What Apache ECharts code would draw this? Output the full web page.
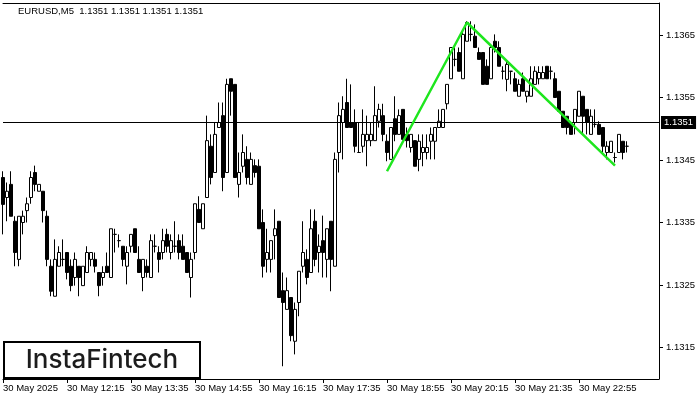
<!DOCTYPE html>
<html><head><meta charset="utf-8">
<script src="https://cdn.jsdelivr.net/npm/echarts@6/dist/echarts.min.js"></script>
<style>html,body{margin:0;padding:0;background:#fff}#c{width:700px;height:400px}</style>
</head><body><div id="c"></div>
<script>
const chartTitle = 'EURUSD,M5  1.1351 1.1351 1.1351 1.1351';
const tickIndex = [0, 16, 32, 48, 64, 80, 96, 112, 128, 144];
const tickLabels = ['30 May 2025', '30 May 12:15', '30 May 13:35', '30 May 14:55', '30 May 16:15',
  '30 May 17:35', '30 May 18:55', '30 May 20:15', '30 May 21:35', '30 May 22:55'];
const yTicks = [1.1315, 1.1325, 1.1335, 1.1345, 1.1355, 1.1365];
const bidPrice = 1.1351;
const yMin = 1.130996, yMax = 1.137012;
const slotCount = 165;

const open = [
1.13422,1.13390,1.13411,1.13352,1.13291,1.13350,1.13369,1.13390,1.13430,1.13400,
1.13400,1.13360,1.13280,1.13232,1.13280,1.13291,1.13302,1.13280,1.13262,1.13280,
1.13249,1.13270,1.13291,1.13291,1.13270,1.13262,1.13280,1.13262,1.13331,1.13321,
1.13312,1.13280,1.13312,1.13340,1.13291,1.13262,1.13280,1.13262,1.13312,1.13302,
1.13302,1.13331,1.13302,1.13312,1.13321,1.13312,1.13302,1.13262,1.13302,1.13371,
1.13340,1.13390,1.13472,1.13430,1.13502,1.13521,1.13430,1.13580,1.13571,1.13411,
1.13440,1.13451,1.13411,1.13441,1.13440,1.13350,1.13291,1.13291,1.13329,1.13352,
1.13241,1.13211,1.13230,1.13160,1.13222,1.13280,1.13291,1.13270,1.13352,1.13302,
1.13321,1.13291,1.13352,1.13280,1.13462,1.13510,1.13542,1.13510,1.13510,1.13462,
1.13472,1.13481,1.13481,1.13481,1.13512,1.13521,1.13480,1.13451,1.13516,1.13491,
1.13531,1.13491,1.13470,1.13481,1.13451,1.13462,1.13462,1.13480,1.13480,1.13502,
1.13502,1.13540,1.13580,1.13611,1.13622,1.13580,1.13640,1.13651,1.13648,1.13622,
1.13622,1.13600,1.13580,1.13640,1.13630,1.13592,1.13579,1.13592,1.13580,1.13552,
1.13580,1.13552,1.13552,1.13571,1.13580,1.13580,1.13600,1.13592,1.13580,1.13560,
1.13528,1.13520,1.13510,1.13510,1.13520,1.13552,1.13531,1.13491,1.13507,1.13507,
1.13502,1.13462,1.13462,1.13454,1.13462,1.13480,1.13472];
const close = [
1.13379,1.13400,1.13360,1.13302,1.13360,1.13360,1.13380,1.13422,1.13411,1.13411,
1.13369,1.13291,1.13240,1.13291,1.13302,1.13291,1.13270,1.13249,1.13291,1.13262,
1.13280,1.13302,1.13302,1.13280,1.13249,1.13270,1.13270,1.13340,1.13331,1.13321,
1.13291,1.13302,1.13331,1.13302,1.13270,1.13291,1.13270,1.13321,1.13312,1.13291,
1.13321,1.13312,1.13321,1.13312,1.13302,1.13291,1.13270,1.13291,1.13380,1.13350,
1.13380,1.13481,1.13422,1.13491,1.13510,1.13422,1.13571,1.13560,1.13422,1.13430,
1.13462,1.13422,1.13451,1.13430,1.13340,1.13280,1.13302,1.13321,1.13340,1.13230,
1.13222,1.13241,1.13169,1.13211,1.13272,1.13302,1.13262,1.13340,1.13291,1.13312,
1.13302,1.13340,1.13291,1.13451,1.13521,1.13531,1.13502,1.13502,1.13472,1.13462,
1.13491,1.13491,1.13491,1.13521,1.13531,1.13491,1.13462,1.13502,1.13491,1.13521,
1.13483,1.13481,1.13491,1.13440,1.13480,1.13470,1.13470,1.13491,1.13502,1.13512,
1.13531,1.13571,1.13630,1.13611,1.13592,1.13651,1.13670,1.13651,1.13630,1.13611,
1.13571,1.13571,1.13630,1.13630,1.13600,1.13592,1.13603,1.13592,1.13560,1.13571,
1.13560,1.13560,1.13580,1.13592,1.13590,1.13590,1.13580,1.13592,1.13550,1.13528,
1.13502,1.13502,1.13491,1.13531,1.13560,1.13520,1.13510,1.13520,1.13507,1.13491,
1.13472,1.13472,1.13480,1.13454,1.13491,1.13462,1.13472];
const low = [
1.13331,1.13352,1.13360,1.13280,1.13280,1.13331,1.13350,1.13380,1.13400,1.13400,
1.13350,1.13280,1.13232,1.13232,1.13280,1.13280,1.13259,1.13240,1.13249,1.13232,
1.13249,1.13270,1.13280,1.13270,1.13232,1.13249,1.13270,1.13262,1.13302,1.13310,
1.13280,1.13251,1.13302,1.13302,1.13270,1.13240,1.13262,1.13262,1.13302,1.13270,
1.13291,1.13302,1.13291,1.13302,1.13291,1.13291,1.13270,1.13230,1.13291,1.13350,
1.13340,1.13390,1.13411,1.13430,1.13502,1.13400,1.13430,1.13521,1.13422,1.13390,
1.13430,1.13411,1.13411,1.13422,1.13340,1.13262,1.13270,1.13270,1.13291,1.13230,
1.13120,1.13211,1.13160,1.13139,1.13200,1.13270,1.13251,1.13270,1.13280,1.13270,
1.13262,1.13262,1.13240,1.13280,1.13430,1.13451,1.13502,1.13502,1.13462,1.13462,
1.13462,1.13440,1.13472,1.13481,1.13502,1.13480,1.13448,1.13451,1.13480,1.13491,
1.13483,1.13470,1.13462,1.13440,1.13432,1.13440,1.13451,1.13451,1.13451,1.13502,
1.13502,1.13531,1.13580,1.13600,1.13592,1.13580,1.13640,1.13640,1.13630,1.13611,
1.13571,1.13571,1.13580,1.13622,1.13600,1.13579,1.13560,1.13571,1.13560,1.13552,
1.13560,1.13542,1.13552,1.13571,1.13571,1.13580,1.13580,1.13579,1.13550,1.13528,
1.13502,1.13491,1.13491,1.13491,1.13520,1.13491,1.13491,1.13491,1.13502,1.13491,
1.13462,1.13451,1.13462,1.13446,1.13462,1.13451,1.13462];
const high = [
1.13432,1.13414,1.13432,1.13360,1.13360,1.13369,1.13390,1.13432,1.13441,1.13411,
1.13400,1.13369,1.13291,1.13323,1.13312,1.13323,1.13302,1.13291,1.13302,1.13280,
1.13280,1.13312,1.13302,1.13302,1.13270,1.13280,1.13302,1.13340,1.13340,1.13331,
1.13312,1.13312,1.13331,1.13340,1.13312,1.13291,1.13291,1.13331,1.13331,1.13312,
1.13340,1.13340,1.13331,1.13352,1.13331,1.13331,1.13302,1.13302,1.13380,1.13392,
1.13380,1.13521,1.13491,1.13510,1.13542,1.13542,1.13580,1.13580,1.13571,1.13462,
1.13491,1.13472,1.13462,1.13451,1.13451,1.13371,1.13340,1.13321,1.13371,1.13352,
1.13270,1.13262,1.13230,1.13222,1.13272,1.13352,1.13307,1.13371,1.13371,1.13331,
1.13361,1.13340,1.13352,1.13462,1.13542,1.13552,1.13580,1.13571,1.13531,1.13510,
1.13531,1.13521,1.13510,1.13568,1.13540,1.13540,1.13491,1.13502,1.13552,1.13531,
1.13531,1.13502,1.13491,1.13481,1.13491,1.13491,1.13491,1.13502,1.13502,1.13531,
1.13531,1.13571,1.13630,1.13630,1.13630,1.13659,1.13672,1.13672,1.13667,1.13630,
1.13622,1.13611,1.13635,1.13651,1.13640,1.13600,1.13608,1.13592,1.13590,1.13579,
1.13590,1.13560,1.13600,1.13600,1.13600,1.13600,1.13600,1.13600,1.13590,1.13560,
1.13528,1.13520,1.13510,1.13531,1.13560,1.13552,1.13531,1.13531,1.13531,1.13512,
1.13502,1.13480,1.13480,1.13462,1.13491,1.13480,1.13480];

const patternIdx = [96, 116, 153];
const patternPrice = [1.13432, 1.13670, 1.13441];

// category slots (5-minute bars starting 10:55)
const categories = [];
for (let i = 0; i < slotCount; i++) {
  const m = 10 * 60 + 55 + 5 * i;
  const hh = Math.floor(m / 60) % 24, mm = m % 60;
  categories.push('30 May ' + String(hh).padStart(2, '0') + ':' + String(mm).padStart(2, '0'));
}
const candles = open.map((o, i) => [o, close[i], low[i], high[i]]);
const isTick = (i) => tickIndex.indexOf(i) >= 0;
const FONT = 'Liberation Sans';

const chart = echarts.init(document.getElementById('c'), null, {renderer: 'canvas'});
chart.setOption({
  animation: false,
  backgroundColor: '#fff',
  title: {text: chartTitle, left: 18, top: 6, padding: 0,
    textStyle: {fontFamily: FONT, fontSize: 9.5, fontWeight: 'normal', color: '#000'}},
  grid: {left: 3, right: 41, top: 3, bottom: 21},
  xAxis: [{
    type: 'category', data: categories, boundaryGap: false,
    axisLine: {lineStyle: {color: '#000', width: 1}},
    axisTick: {interval: (i) => isTick(i), length: 4, lineStyle: {color: '#000'}},
    axisLabel: {interval: (i) => isTick(i), formatter: (v, i) => tickLabels[tickIndex.indexOf(i)] || '',
      align: 'left', margin: 4, fontFamily: FONT, fontSize: 9.5, color: '#000'},
    splitLine: {show: false}
  }, {
    type: 'category', data: categories, boundaryGap: false, position: 'top',
    axisLine: {lineStyle: {color: '#000', width: 1}}, axisTick: {show: false}, axisLabel: {show: false}
  }],
  yAxis: {
    type: 'value', position: 'right', min: yMin, max: yMax,
    axisLine: {show: true, lineStyle: {color: '#000', width: 1}},
    axisTick: {show: true, length: 4, customValues: yTicks, lineStyle: {color: '#000'}},
    axisLabel: {customValues: yTicks, formatter: (v) => v.toFixed(4), margin: 7,
      fontFamily: FONT, fontSize: 9.5, color: '#000'},
    splitLine: {show: false}
  },
  series: [{
    type: 'candlestick', data: candles, barWidth: 3, clip: true,
    itemStyle: {color: '#fff', color0: '#000', borderColor: '#000', borderColor0: '#000', borderColorDoji: '#000', borderWidth: 1}
  }, {
    name: 'bid', type: 'line', data: [[0, bidPrice], [slotCount - 1, bidPrice]],
    symbol: 'none', z: 3, silent: true, clip: false,
    lineStyle: {color: '#000', width: 1},
    endLabel: {show: true, distance: 2, formatter: () => bidPrice.toFixed(4),
      backgroundColor: '#000', color: '#fff', padding: [2, 3, 1, 3],
      fontFamily: FONT, fontSize: 9.5}
  }, {
    type: 'line', data: patternIdx.map((x, i) => [x, patternPrice[i]]),
    symbol: 'none', z: 5, lineStyle: {color: '#1ee61e', width: 2.5}
  }],
  graphic: [
    {type: 'rect', z: 100, shape: {x: 4, y: 342, width: 196, height: 36},
      style: {fill: '#fff', stroke: '#000', lineWidth: 2}},
    {type: 'text', z: 101, x: 102, y: 360,
      style: {text: 'InstaFintech', font: '500 26px Inter', fill: '#1c1c1c',
        align: 'center', verticalAlign: 'middle', textAlign: 'center', textVerticalAlign: 'middle'}}
  ]
});
</script>
</body></html>
